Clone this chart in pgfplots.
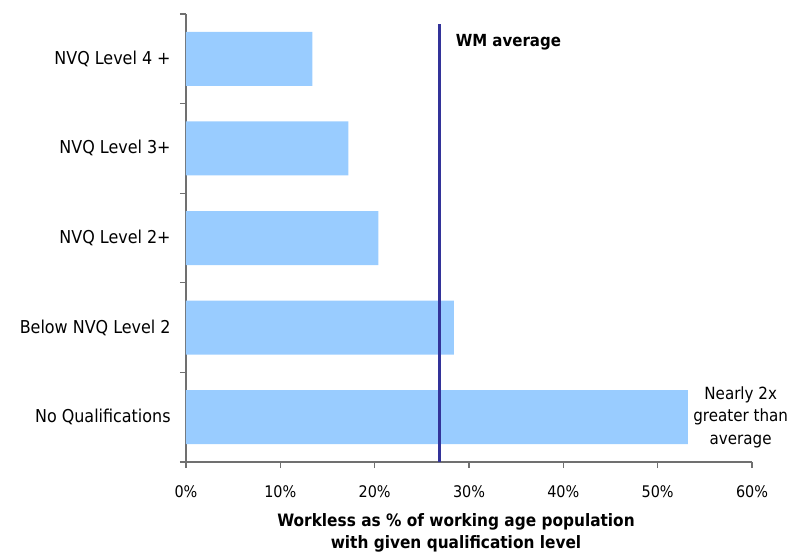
\documentclass[border=0pt]{standalone}
\usepackage{pgfplots}
\pgfplotsset{compat=1.18}
\usepackage{fontspec}
\setmainfont{DejaVu Sans Condensed}
\definecolor{barblue}{HTML}{99CCFF}
\definecolor{wmblue}{HTML}{333399}
\definecolor{axisgray}{HTML}{707070}
\begin{document}
\begin{tikzpicture}
\useasboundingbox (0,0) rectangle (600pt,413.25pt);
\begin{axis}[
  at={(139.5pt,66.75pt)}, anchor=south west,
  scale only axis,
  width=424.5pt, height=336pt,
  bar width=40.5pt,
  xmin=0, xmax=60, ymin=-0.5, ymax=4.5,
  axis x line*=bottom, axis y line*=left,
  axis line style={axisgray, line width=1pt, -},
  xtick={0,10,...,60},
  xticklabel={\pgfmathprintnumber{\tick}\%},
  ytick={0,...,4},
  yticklabels={No Qualifications, Below NVQ Level 2, NVQ Level 2+, NVQ Level 3+, NVQ Level 4 +},
  minor ytick={-0.5,0.5,...,4.5},
  major y tick style={draw=none},
  tick style={axisgray, line width=1pt},
  tick align=outside,
  major tick length=4.5pt, minor tick length=4.5pt,
  xticklabel style={font=\fontsize{12}{14}\selectfont, text=black, yshift=-10pt},
  yticklabel style={font=\fontsize{13.3}{16}\selectfont, text=black, xshift=-3.5pt},
  /pgf/number format/assume math mode=true,
  clip=false,
]
\addplot[xbar, fill=barblue, draw=none] coordinates {
  (53.2,0) (28.4,1) (20.4,2) (17.2,3) (13.4,4)
};
\addplot[draw=wmblue, line width=2.2pt] coordinates {(26.9,-0.5) (26.9,4.39)};
\node[anchor=west, font=\fontsize{12.5}{14}\selectfont\bfseries] at (axis cs:28.1,4.19) {WM average};
\node[align=center, font=\fontsize{12.6}{16.9}\selectfont] at (axis cs:58.8,0) {Nearly 2x\\greater than\\average};
\end{axis}
\node[align=center, font=\fontsize{12.8}{16.5}\selectfont\bfseries] at (342pt,13.3pt) {Workless as \% of working age population\\with given qualification level};
\end{tikzpicture}
\end{document}
